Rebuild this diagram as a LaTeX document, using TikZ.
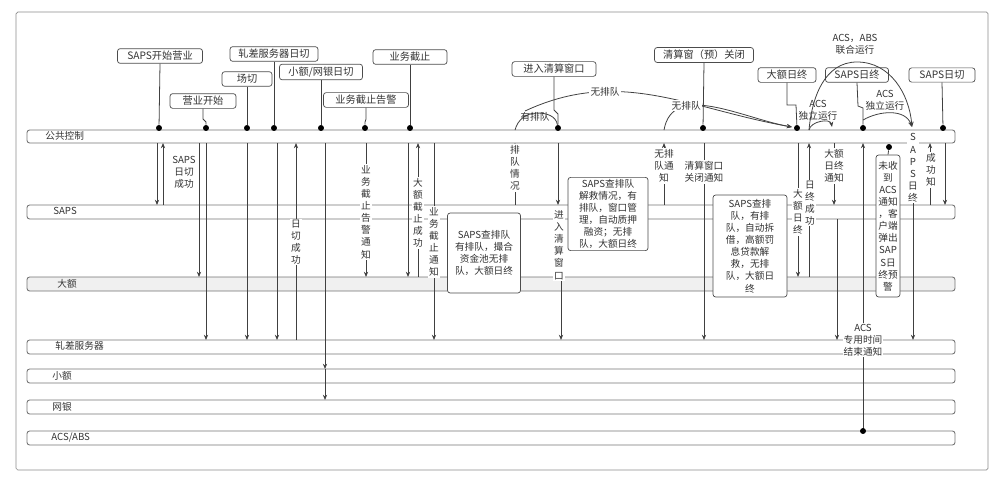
\documentclass[tikz,border=0pt]{standalone}
\usepackage{fontspec}
\setmainfont{Noto Sans CJK SC}
\usetikzlibrary{arrows.meta}
\begin{document}
\begin{tikzpicture}[x=0.02cm,y=-0.02cm,
  every node/.style={text=black!80},
  lane/.style={draw=black!55,rounded corners=1.5pt,line width=0.5pt},
  lanetxt/.style={anchor=west,font=\fontsize{5.5}{6}\selectfont,inner sep=0pt},
  topbox/.style={draw=black!70,rounded corners=1.5pt,fill=white,font=\fontsize{5.8}{7}\selectfont,inner sep=1.5pt,minimum height=0.28cm},
  midbox/.style={draw=black!70,rounded corners=1.5pt,fill=white,font=\fontsize{5.5}{6.9}\selectfont,align=center,inner sep=1pt},
  lbl/.style={fill=white,font=\fontsize{5.5}{6.9}\selectfont,align=center,inner sep=0.6pt},
  ln/.style={draw=black!75,line width=0.45pt},
  arr/.style={ln,-{Stealth[length=3pt,width=2.4pt]}},
  dot/.style={circle,fill=black,inner sep=0pt,minimum size=3.4pt}]
\useasboundingbox (0,0) rectangle (1000,487);
\draw[black!45,rounded corners=1pt] (16,12) rectangle (988,470);
% lanes
\draw[lane] (27,130) rectangle (955,143);
\draw[lane] (27,205) rectangle (955,219);
\draw[lane,fill=black!6] (27,277) rectangle (955,291);
\draw[lane] (27,340) rectangle (955,354);
\draw[lane] (27,369) rectangle (955,383);
\draw[lane] (27,400) rectangle (955,414);
\draw[lane] (27,431) rectangle (955,445);
\node[lanetxt] (l1) at (45,136) {公共控制};
\node[lanetxt] (l2) at (53,211) {SAPS};
\node[lanetxt] (l3) at (57,284) {大额};
\node[lanetxt] (l4) at (55,346) {轧差服务器};
\node[lanetxt] (l5) at (52,376) {小额};
\node[lanetxt] (l6) at (52,407) {网银};
\node[lanetxt] (l7) at (51,438) {ACS/ABS};
% top boxes
\node[topbox,minimum width=1.7cm] (t1) at (160,56) {SAPS开始营业};
\node[topbox,minimum width=1.32cm] (t2) at (203,101) {营业开始};
\node[topbox,minimum width=1.0cm] (t3) at (247,79) {场切};
\node[topbox,minimum width=1.76cm] (t4) at (274,54) {轧差服务器日切};
\node[topbox,minimum width=1.66cm] (t5) at (321,72) {小额/网银日切};
\node[topbox,minimum width=1.7cm] (t6) at (366,100) {业务截止告警};
\node[topbox,minimum width=1.48cm] (t7) at (410,57) {业务截止};
\node[topbox,minimum width=1.68cm] (t8) at (554,69) {进入清算窗口};
\node[topbox,minimum width=1.98cm] (t9) at (704,55) {清算窗（预）关闭};
\node[topbox,minimum width=1.16cm] (t10) at (787,75) {大额日终};
\node[topbox,minimum width=1.26cm] (t11) at (857,75) {SAPS日终};
\node[topbox,minimum width=1.32cm] (t12) at (942,75) {SAPS日切};
\node[lbl,fill=none] (t13) at (855,44) {ACS，ABS\\联合运行};
% dots
\foreach \n/\x in {d1/159,d2/206,d3/247,d4/274,d5/321,d6/365,d7/410,d8/558,d9/703,d10/797,d11/863,d12/943}
  \node[dot] (\n) at (\x,128) {};
\draw[ln] (t1.south) -- (d1);
\draw[ln] (t2.south) -- (203,119) -- (206,122) -- (d2);
\draw[ln] (t3.south) -- (d3);
\draw[ln] (t4.south) -- (d4);
\draw[ln] (t5.south) -- (d5);
\draw[ln] (t6.south) -- (366,119) -- (365,122) -- (d6);
\draw[ln] (t7.south) -- (d7);
\draw[ln] (t8.south) -- (554,110) -- (558,114) -- (d8);
\draw[ln] (t9.south) -- (d9);
\draw[ln] (t10.south) -- (787,105) -- (796,105) -- (d10);
\draw[ln] (t11.south) -- (858,106) -- (863,108) -- (d11);
\draw[ln] (t12.south) -- (d12);
% arcs above
\draw[ln] (515,130) to[out=75,in=180] (537,113) to[out=0,in=100] (d8);
\node[lbl,fill=none] (a1) at (535,117) {有排队};
\draw[arr] (525,111) to[out=25,in=170] node[lbl,pos=0.3] (a2) {无排队} (792,127);
\draw[arr] (664,130) to[out=80,in=170] node[lbl,pos=0.3] (a3) {无排队} (792,127);
\draw[arr] (809,130) to[out=80,in=100] (832,127);
\node[lbl,fill=none] (a4) at (818,110) {ACS\\独立运行};
\draw[arr] (809,130) to[out=85,in=180] (857,62) to[out=0,in=95] (912,127);
\draw[arr] (863,120) to[out=30,in=110] (912,127);
\node[lbl,fill=none] (a5) at (885,100) {ACS\\独立运行};
% verticals
\draw[arr] (157,143) -- (157,205);
\draw[arr] (163,205) -- (163,143);
\node[lbl] at (184,172) {SAPS\\日切\\成功};
\draw[arr] (199,143) -- (199,277);
\draw[arr] (206,143) -- (206,340);
\draw[arr] (247,143) -- (247,340);
\draw[arr] (277,143) -- (277,340);
\draw[arr] (296,340) -- (296,143);
\node[lbl] at (296,242) {日\\切\\成\\功};
\draw[arr] (325,143) -- (325,369);
\draw[arr] (325,369) -- (325,400);
\draw[arr] (366,143) -- (366,277);
\node[lbl] at (366,212) {业\\务\\截\\止\\告\\警\\通\\知};
\draw[arr] (408,143) -- (408,277);
\draw[arr] (418,277) -- (418,143);
\node[lbl] at (418,213) {大\\额\\截\\止\\成\\功};
\draw[arr] (434,143) -- (434,340);
\node[lbl] at (434,242) {业\\务\\截\\止\\通\\知};
\node[midbox,minimum width=1.46cm,minimum height=1.6cm] (b1) at (484,253) {SAPS查排队\\有排队，撮合\\资金池无排\\队，大额日终};
\draw[arr] (515,205) -- (515,143);
\node[lbl] at (515,168) {排\\队\\情\\况};
\draw[arr] (558,143) -- (558,205);
\draw[arr] (561,219) -- (561,340);
\node[lbl] at (559,245) {进\\入\\清\\算\\窗\\口};
\node[midbox,minimum width=1.6cm,minimum height=1.44cm] (b2) at (608,214) {SAPS查排队\\解救情况，有\\排队，窗口管\\理，自动质押\\融资；无排\\队，大额日终};
\draw[arr] (664,205) -- (664,143);
\node[lbl] at (664,166) {无排\\队通\\知};
\draw[arr] (704,143) -- (704,340);
\node[lbl] at (704,172) {清算窗口\\关闭通知};
\node[midbox,minimum width=1.48cm,minimum height=2.04cm] (b3) at (750,246) {SAPS查排\\队，有排\\队，自动拆\\借，高额罚\\息贷款解\\救，无排\\队，大额日\\终};
\draw[arr] (798,143) -- (798,277);
\node[lbl] at (798,212) {大\\额\\日\\终};
\draw[arr] (809,277) -- (809,143);
\node[lbl] at (810,203) {日\\终\\成\\功};
\draw[arr] (834,143) -- (834,205);
\draw[arr] (837,219) -- (837,340);
\node[lbl] at (834,166) {大额\\日终\\通知};
\draw[arr] (863,431) -- (863,143);
\node[dot] (d13) at (863,431) {};
\node[lbl] at (863,340) {ACS\\专用时间\\结束通知};
\node[dot] (d14) at (889,147) {};
\node[midbox,minimum width=0.48cm,minimum height=2.84cm] (b4) at (888,226) {未收\\到\\ACS\\通知\\，客\\户端\\弹出\\SAP\\S日\\终预\\警};
\draw[ln] (d14) -- (b4.north);
\draw[arr] (913,143) -- (913,340);
\node[lbl] at (913,168) {S\\A\\P\\S\\日\\终};
\draw[arr] (930,205) -- (930,143);
\node[lbl] at (931,170) {成\\功\\知};
\draw[arr] (945,143) -- (945,205);
\end{tikzpicture}
\end{document}
